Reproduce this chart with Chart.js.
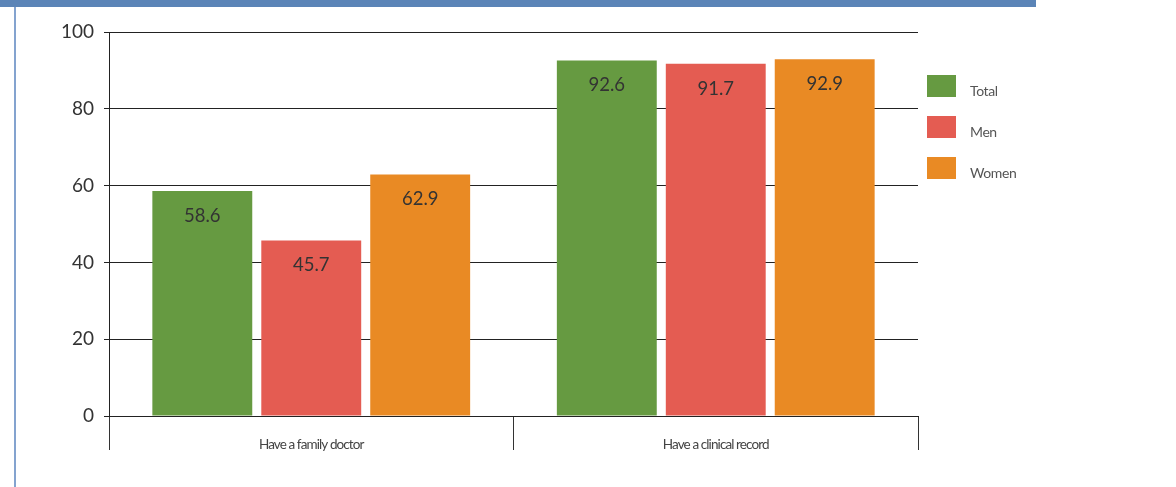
<!DOCTYPE html>
<html>
<head>
<meta charset="utf-8">
<script src="https://cdn.jsdelivr.net/npm/chart.js@4.4.1/dist/chart.umd.min.js"></script>
<style>
  html, body { margin: 0; padding: 0; background: #fff; }
  #wrap { position: relative; width: 1176px; height: 487px; overflow: hidden; }
  #topbar { position: absolute; left: 0; top: 0; width: 1036px; height: 7px; background: #5b84b7; }
  #sideline { position: absolute; left: 14px; top: 7px; width: 2px; height: 480px; background: #84a3cf; }
  #c { position: absolute; left: 0; top: 0; }
</style>
</head>
<body>
<div id="wrap">
  <div id="topbar"></div>
  <div id="sideline"></div>
  <canvas id="c" width="1176" height="487"></canvas>
</div>
<script>
const categories = ['Have a family doctor', 'Have a clinical record'];
const seriesNames = ['Total', 'Men', 'Women'];
const totalValues = [58.6, 92.6];
const menValues = [45.7, 91.7];
const womenValues = [62.9, 92.9];
const yTicks = [0, 20, 40, 60, 80, 100];

const colors = ['#669a41', '#e45c52', '#e98a24'];
const seriesValues = [totalValues, menValues, womenValues];

// Value labels drawn inside the top of each bar
const valueLabels = {
  id: 'valueLabels',
  afterDatasetsDraw(chart) {
    const ctx = chart.ctx;
    ctx.save();
    ctx.font = '18.5px Lato, sans-serif';
    ctx.fillStyle = '#333';
    ctx.textAlign = 'center';
    ctx.textBaseline = 'middle';
    chart.data.datasets.forEach((ds, i) => {
      chart.getDatasetMeta(i).data.forEach((bar, j) => {
        ctx.fillText(ds.data[j].toFixed(1), bar.x, bar.y + 25);
      });
    });
    ctx.restore();
  }
};

// Tightly spaced category names under the x axis
const categoryLabels = {
  id: 'categoryLabels',
  afterDraw(chart) {
    const ctx = chart.ctx;
    const xs = chart.scales.x;
    ctx.save();
    ctx.font = '13.5px Lato, sans-serif';
    ctx.letterSpacing = '-0.9px';
    ctx.fillStyle = '#444';
    ctx.textAlign = 'center';
    ctx.textBaseline = 'middle';
    chart.data.labels.forEach((label, i) => {
      ctx.fillText(label, xs.getPixelForValue(i), xs.top + 29);
    });
    ctx.restore();
  }
};

// Vertical legend to the right of the plot
const sideLegend = {
  id: 'sideLegend',
  afterDraw(chart) {
    const ctx = chart.ctx;
    ctx.save();
    ctx.font = '14px Lato, sans-serif';
    ctx.letterSpacing = '-0.4px';
    ctx.textBaseline = 'middle';
    chart.data.datasets.forEach((ds, i) => {
      const y = 75 + i * 41;
      ctx.fillStyle = ds.backgroundColor;
      ctx.fillRect(927, y, 29, 22);
      ctx.fillStyle = '#555';
      ctx.fillText(ds.label, 970, y + 16);
    });
    ctx.restore();
  }
};

new Chart(document.getElementById('c'), {
  type: 'bar',
  data: {
    labels: categories,
    datasets: seriesNames.map((name, i) => ({
      label: name,
      data: seriesValues[i],
      backgroundColor: colors[i],
      barPercentage: 0.917,
      categoryPercentage: 0.808
    }))
  },
  options: {
    responsive: false,
    animation: false,
    events: [],
    layout: { padding: { left: 0, right: 258, top: 32, bottom: 0 } },
    plugins: { legend: { display: false }, tooltip: { enabled: false } },
    scales: {
      x: {
        offset: true,
        grid: {
          offset: true,
          drawOnChartArea: false,
          drawTicks: true,
          tickLength: 34,
          color: '#333',
          lineWidth: 1
        },
        border: { display: true, color: '#222', width: 1 },
        ticks: { display: false },
        afterFit(scale) { scale.height = 71; }
      },
      y: {
        min: 0,
        max: 100,
        afterBuildTicks(scale) { scale.ticks = yTicks.map(v => ({ value: v })); },
        grid: { color: '#222', lineWidth: 1, tickLength: 5 },
        border: { display: true, color: '#222', width: 1 },
        ticks: {
          padding: 10,
          color: '#333',
          font: { family: 'Lato, sans-serif', size: 19 }
        },
        afterFit(scale) { scale.width = 109; }
      }
    }
  },
  plugins: [valueLabels, categoryLabels, sideLegend]
});
</script>
</body>
</html>
